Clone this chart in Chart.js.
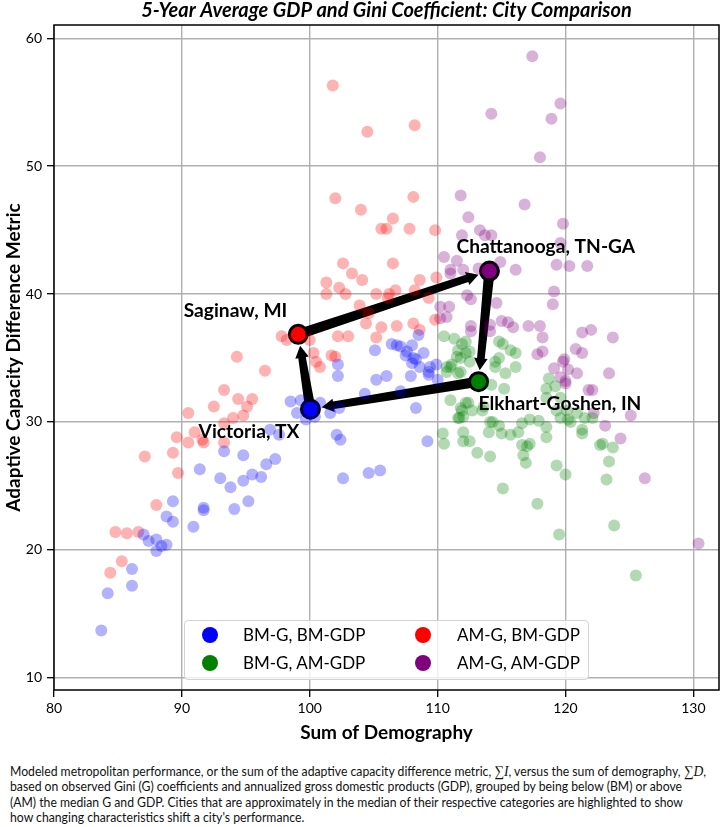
<!DOCTYPE html>
<html>
<head>
<meta charset="utf-8">
<script src="https://cdn.jsdelivr.net/npm/chart.js@4.4.0/dist/chart.umd.min.js"></script>
<style>
  body { margin: 0; background: #fff; width: 720px; height: 827px; position: relative; overflow: hidden; font-family: Lato, sans-serif; }
  #wrap { position: absolute; left: 0; top: 0; width: 720px; height: 748px; }
  #legend { position: absolute; left: 184px; top: 620px; width: 405px; height: 60px; box-sizing: border-box;
            border: 1px solid #d3d3d3; border-radius: 4px; background: rgba(255,255,255,0.8); }
  .lg-dot { position: absolute; width: 16px; height: 16px; border-radius: 50%; }
  .lg-txt { position: absolute; font-size: 17px; line-height: 20px; color: #000; white-space: nowrap; }
  #caption { position: absolute; left: 10px; top: 764px; font-family: Lato, sans-serif; transform-origin: 0 0;
             font-size: 13.5px; line-height: 15.3px; color: #111; white-space: nowrap; }
  .m { font-family: "Liberation Serif", "DejaVu Serif", serif; font-size: 15px; }
</style>
</head>
<body>
<div id="wrap"><canvas id="myChart" width="720" height="748"></canvas></div>
<div id="legend"></div>
<div id="caption">
  <div><span id="line1">Modeled metropolitan performance, or the sum of the adaptive capacity difference metric, <span class="m">∑<i>I</i></span>, versus the sum of demography, <span class="m">∑<i>D</i></span>,</span></div>
  <div>based on observed Gini (G) coefficients and annualized gross domestic products (GDP), grouped by being below (BM) or above</div>
  <div>(AM) the median G and GDP. Cities that are approximately in the median of their respective categories are highlighted to show</div>
  <div>how changing characteristics shift a city's performance.</div>
</div>
<script>
// BM-G, BM-GDP (blue)
const bmbmX = [98.5, 99.3, 99.0, 99.7, 100.8, 101.6, 102.3, 100.4, 102.1, 102.4, 102.6, 93.3, 94.8, 91.4, 93.0, 93.8, 94.8, 95.5, 96.2, 96.6,
               97.3, 89.3, 91.7, 91.7, 94.1, 95.2, 88.8, 89.3, 90.9, 87.0, 87.4, 88.0, 88.0, 88.4, 88.8, 86.1, 86.1, 84.2, 83.7, 96.9,
               97.6, 108.5, 106.4, 107.1, 105.1, 107.5, 108.3, 108.0, 102.2, 102.2, 105.2, 106.0, 107.9, 108.6, 109.3, 109.9, 106.8, 107.6, 108.0, 108.1,
               108.9, 109.4, 109.3, 110.0, 104.3, 107.1, 108.3, 109.2, 104.6, 105.5];
const bmbmY = [31.6, 31.7, 30.7, 30.2, 31.5, 30.7, 31.1, 30.4, 29.0, 28.6, 25.6, 27.7, 27.4, 26.3, 25.6, 24.9, 25.4, 25.9, 25.7, 26.7,
               27.1, 23.8, 23.3, 23.1, 23.2, 23.8, 22.6, 22.2, 21.8, 21.2, 20.7, 20.8, 19.9, 20.3, 20.4, 18.5, 17.2, 16.6, 13.7, 29.4,
               29.0, 36.8, 36.1, 35.9, 35.6, 35.2, 34.9, 34.6, 34.5, 33.6, 33.3, 33.6, 33.6, 34.3, 33.9, 34.5, 36.0, 35.5, 36.0, 35.0,
               35.4, 34.3, 33.7, 33.3, 32.2, 32.4, 31.1, 28.5, 26.0, 26.2];

// BM-G, AM-GDP (green)
const bmamX = [110.5, 111.3, 111.9, 112.2, 111.5, 111.0, 111.8, 111.0, 111.8, 112.2, 111.6, 110.4, 112.0, 112.2, 111.6, 112.5, 111.8, 111.1, 112.5, 110.7,
               111.6, 114.8, 115.1, 114.8, 115.7, 116.1, 116.1, 115.3, 114.5, 115.2, 114.2, 112.0, 112.7, 113.6, 114.3, 114.8, 114.0, 115.0, 115.7, 116.3,
               116.6, 117.2, 117.9, 118.5, 117.2, 118.5, 116.6, 112.5, 110.5, 112.0, 118.7, 119.2, 118.5, 119.6, 120.1, 120.9, 120.4, 121.5, 121.3, 122.9,
               113.1, 114.1, 117.0, 116.7, 116.9, 119.3, 120.0, 115.1, 117.8, 119.5, 123.8, 125.5, 122.7, 123.7, 123.4, 123.2, 118.5, 119.3, 119.6, 120.2,
               121.3, 122.1, 111.9, 111.7, 112.4, 113.5, 114.1, 114.5, 110.7];
const bmamY = [36.7, 36.5, 36.1, 35.4, 35.1, 34.3, 33.9, 31.7, 31.1, 31.5, 30.3, 29.1, 28.5, 36.3, 35.6, 35.5, 35.0, 34.5, 34.7, 33.9,
               33.8, 36.3, 36.1, 35.0, 35.6, 35.4, 34.3, 33.8, 34.3, 32.6, 32.9, 30.4, 30.9, 31.2, 30.0, 29.7, 29.2, 29.1, 29.0, 29.2,
               29.9, 30.2, 30.1, 29.6, 28.3, 28.8, 28.2, 28.5, 28.3, 29.2, 33.4, 32.8, 31.9, 31.9, 30.9, 30.7, 30.0, 30.3, 29.1, 28.3,
               27.6, 27.3, 28.1, 27.4, 26.8, 26.6, 25.9, 24.8, 23.6, 21.2, 21.9, 18.0, 28.2, 28.0, 26.9, 25.5, 32.6, 30.9, 30.3, 30.2,
               29.4, 30.3, 30.9, 30.3, 31.5, 30.9, 30.0, 34.7, 34.3];

// AM-G, BM-GDP (red)
const ambmX = [93.3, 94.4, 95.5, 95.1, 94.8, 94.0, 92.5, 90.5, 89.6, 90.5, 91.0, 91.6, 91.7, 93.3, 93.3, 87.1, 89.3, 89.7, 88.0, 84.8,
               85.7, 86.6, 85.3, 84.4, 101.8, 104.5, 108.2, 102.0, 104.0, 108.1, 106.5, 105.6, 106.0, 107.8, 109.8, 102.6, 103.3, 104.1, 106.5, 101.3,
               102.3, 102.8, 101.3, 105.2, 106.2, 106.7, 108.6, 108.2, 109.9, 106.1, 103.9, 104.6, 104.4, 105.6, 105.2, 106.8, 108.1, 108.6, 109.8, 109.3,
               102.2, 103.0, 97.8, 98.2, 100.0, 100.3, 100.5, 100.8, 101.7, 102.0, 94.3, 96.5];
const ambmY = [32.5, 31.8, 31.8, 31.2, 30.5, 30.3, 31.2, 30.7, 28.8, 28.4, 29.2, 28.6, 28.4, 28.4, 29.9, 27.3, 27.6, 26.0, 23.5, 21.4,
               21.3, 21.4, 19.1, 18.2, 56.3, 52.7, 53.2, 47.5, 46.6, 47.6, 45.9, 45.1, 45.1, 45.1, 45.0, 42.4, 41.6, 41.1, 42.4, 40.9,
               40.5, 40.0, 40.0, 40.0, 40.0, 40.3, 41.1, 40.3, 41.3, 39.7, 39.1, 38.5, 37.7, 37.4, 36.6, 37.5, 37.7, 37.2, 38.0, 39.7,
               36.7, 36.7, 36.7, 36.4, 36.4, 35.4, 34.7, 34.3, 35.2, 35.1, 35.1, 34.0];

// AM-G, AM-GDP (purple)
const amamX = [117.4, 119.6, 118.9, 114.2, 118.0, 111.8, 116.8, 112.4, 119.8, 113.3, 113.7, 114.2, 111.9, 119.6, 110.5, 111.5, 112.0, 111.0, 111.0, 113.2,
               114.9, 116.1, 119.3, 120.3, 121.7, 112.3, 112.6, 110.2, 110.9, 110.7, 110.2, 114.6, 119.1, 119.0, 117.1, 118.0, 118.2, 115.0, 115.5, 115.9,
               112.6, 112.6, 114.1, 121.3, 122.0, 123.7, 117.8, 118.2, 120.8, 121.3, 119.1, 119.8, 120.2, 120.9, 123.4, 121.8, 122.1, 125.1, 114.1, 119.9,
               119.6, 120.0, 122.2, 124.3, 120.0, 123.1, 126.2, 130.4];
const amamY = [58.6, 54.9, 53.7, 54.1, 50.7, 47.7, 47.0, 46.0, 45.5, 45.0, 44.6, 44.6, 44.6, 44.0, 42.9, 42.6, 41.9, 41.9, 41.6, 42.0,
               42.5, 41.9, 42.3, 42.2, 42.2, 39.9, 39.6, 39.0, 39.0, 38.2, 38.1, 39.3, 40.2, 39.2, 37.5, 37.5, 36.6, 37.9, 37.8, 37.4,
               37.5, 37.1, 37.6, 37.0, 37.2, 36.6, 35.3, 35.5, 35.7, 35.4, 34.2, 34.7, 34.1, 33.8, 33.8, 32.5, 32.5, 30.5, 37.1, 34.9,
               33.5, 33.0, 30.7, 28.7, 33.2, 29.7, 25.6, 20.5];

// highlighted cities, in arrow order
const cityNames = ['Victoria, TX', 'Saginaw, MI', 'Chattanooga, TN-GA', 'Elkhart-Goshen, IN'];
const cityX = [100.05, 99.1, 114.05, 113.2];
const cityY = [31.0, 36.85, 41.8, 33.15];

const groupLabels = ['BM-G, BM-GDP', 'BM-G, AM-GDP', 'AM-G, BM-GDP', 'AM-G, AM-GDP'];
const xTicks = [80, 90, 100, 110, 120, 130];
const yTicks = [10, 20, 30, 40, 50, 60];

const solid = ['#0000ff', '#008000', '#ff0000', '#800080'];
const faded = ['rgba(0,0,255,0.3)', 'rgba(0,128,0,0.3)', 'rgba(255,0,0,0.3)', 'rgba(128,0,128,0.3)'];
const cityColors = ['#0000ff', '#ff0000', '#800080', '#008000'];
// label placement: [pixel dx, pixel dy, text align]
const cityLabelPos = [[-11, 23, 'right'], [-11, -24, 'right'], [-33, -24, 'left'], [0, 22, 'left']];

const FONT = 'Lato';

function pts(xs, ys) {
  return xs.map((x, i) => ({ x: x, y: ys[i] }));
}

const groups = [[bmbmX, bmbmY], [bmamX, bmamY], [ambmX, ambmY], [amamX, amamY]];
const datasets = groups.map((g, i) => ({
  label: groupLabels[i],
  data: pts(g[0], g[1]),
  backgroundColor: faded[i],
  borderWidth: 0,
  pointRadius: 6,
  pointHoverRadius: 6
}));
datasets.push({
  label: 'cities',
  data: pts(cityX, cityY),
  backgroundColor: cityColors,
  borderColor: '#000',
  borderWidth: 3,
  pointRadius: 9,
  pointHoverRadius: 9
});

// outer frame like matplotlib spines
const framePlugin = {
  id: 'frame',
  afterDraw(chart) {
    const a = chart.chartArea, c = chart.ctx;
    c.save();
    c.strokeStyle = '#000';
    c.lineWidth = 1.5;
    c.strokeRect(a.left, a.top, a.right - a.left, a.bottom - a.top);
    c.restore();
  }
};

// tapered shaft, small head, tip stops at the target marker ring
function drawArrow(c, x0, y0, x1, y1) {
  const dx = x1 - x0, dy = y1 - y0;
  const len = Math.sqrt(dx * dx + dy * dy);
  const ux = dx / len, uy = dy / len, nx = -uy, ny = ux;
  const tipX = x1 - ux * 11.5, tipY = y1 - uy * 11.5;
  const headL = 12, tailW = 5.2, neckW = 3.8, wingW = 6.8;
  const bx = tipX - ux * headL, by = tipY - uy * headL;
  c.beginPath();
  c.moveTo(x0 + nx * tailW, y0 + ny * tailW);
  c.lineTo(bx + nx * neckW, by + ny * neckW);
  c.lineTo(bx + nx * wingW, by + ny * wingW);
  c.lineTo(tipX, tipY);
  c.lineTo(bx - nx * wingW, by - ny * wingW);
  c.lineTo(bx - nx * neckW, by - ny * neckW);
  c.lineTo(x0 - nx * tailW, y0 - ny * tailW);
  c.closePath();
  c.fillStyle = '#000';
  c.fill();
}

const arrowPlugin = {
  id: 'arrows',
  beforeDatasetDraw(chart, args) {
    if (args.index !== 4) return;
    const xs = chart.scales.x, ys = chart.scales.y, c = chart.ctx;
    c.save();
    for (let i = 0; i < cityX.length; i++) {
      const j = (i + 1) % cityX.length;
      drawArrow(c, xs.getPixelForValue(cityX[i]), ys.getPixelForValue(cityY[i]),
                   xs.getPixelForValue(cityX[j]), ys.getPixelForValue(cityY[j]));
    }
    c.restore();
  },
  afterDatasetsDraw(chart) {
    const xs = chart.scales.x, ys = chart.scales.y, c = chart.ctx;
    c.save();
    c.font = 'bold 19.2px ' + FONT;
    c.fillStyle = '#000';
    c.textBaseline = 'middle';
    cityNames.forEach((name, i) => {
      const p = cityLabelPos[i];
      c.textAlign = p[2];
      c.fillText(name, xs.getPixelForValue(cityX[i]) + p[0], ys.getPixelForValue(cityY[i]) + p[1]);
    });
    c.restore();
  }
};

const ctx = document.getElementById('myChart').getContext('2d');
new Chart(ctx, {
  type: 'scatter',
  data: { datasets: datasets },
  options: {
    responsive: false,
    animation: false,
    events: [],
    layout: { autoPadding: false, padding: { left: 0, right: 1, top: 0, bottom: 0 } },
    plugins: {
      legend: { display: false },
      tooltip: { enabled: false },
      title: {
        display: true,
        fullSize: false,
        text: '5-Year Average GDP and Gini Coefficient: City Comparison',
        color: '#000',
        font: { family: FONT, size: 20, weight: 'bold', style: 'italic', lineHeight: 1.1 },
        padding: { top: 0, bottom: 3 }
      }
    },
    scales: {
      x: {
        type: 'linear',
        min: 80,
        max: 132,
        afterBuildTicks: s => { s.ticks = xTicks.map(v => ({ value: v })); },
        afterFit: s => { s.height = 58; s.paddingLeft = 0; s.paddingRight = 0; },
        border: { display: false },
        grid: { color: '#b0b0b0', lineWidth: 1.4, tickColor: '#000', tickLength: 7, tickWidth: 1.3 },
        ticks: { color: '#000', font: { family: FONT, size: 14 }, padding: 3, maxRotation: 0 },
        title: { display: true, text: 'Sum of Demography', color: '#000',
                 font: { family: FONT, size: 19, weight: 'bold' }, padding: { top: 0, bottom: 3.6 } }
      },
      y: {
        type: 'linear',
        min: 9.04,
        max: 61.04,
        afterBuildTicks: s => { s.ticks = yTicks.map(v => ({ value: v })); },
        afterFit: s => { s.width = 54; s.paddingTop = 0; s.paddingBottom = 0; },
        border: { display: false },
        grid: { color: '#b0b0b0', lineWidth: 1.4, tickColor: '#000', tickLength: 7, tickWidth: 1.3 },
        ticks: { color: '#000', font: { family: FONT, size: 14 }, padding: 5 },
        title: { display: true, text: 'Adaptive Capacity Difference Metric', color: '#000',
                 font: { family: FONT, size: 19, weight: 'bold' }, padding: { top: 2, bottom: 0 } }
      }
    }
  },
  plugins: [framePlugin, arrowPlugin]
});

// legend, two columns like the original
const legend = document.getElementById('legend');
groupLabels.forEach((lab, i) => {
  const col = Math.floor(i / 2), row = i % 2;
  const dot = document.createElement('div');
  dot.className = 'lg-dot';
  dot.style.background = solid[i];
  dot.style.left = (17 + col * 213) + 'px';
  dot.style.top = (6 + row * 28) + 'px';
  legend.appendChild(dot);
  const t = document.createElement('div');
  t.className = 'lg-txt';
  t.textContent = lab;
  t.style.left = (58 + col * 214) + 'px';
  t.style.top = (4 + row * 28) + 'px';
  legend.appendChild(t);
});

// squeeze the caption so its first line spans the same width as the original
const line1 = document.getElementById('line1');
const sx = 696 / line1.getBoundingClientRect().width;
document.getElementById('caption').style.transform = 'scale(' + sx + ', 1)';
</script>
</body>
</html>
